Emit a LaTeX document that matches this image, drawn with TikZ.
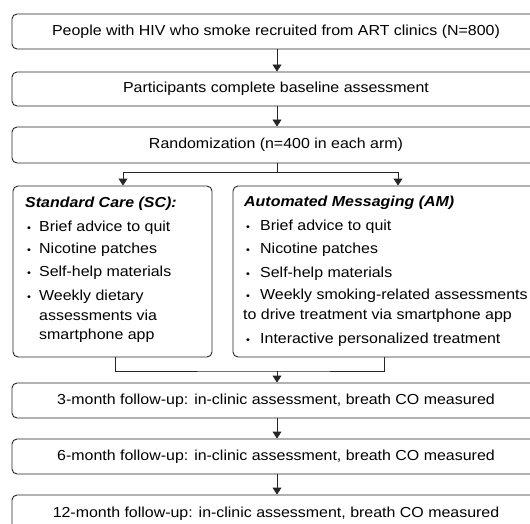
\documentclass[tikz,border=0pt]{standalone}
\usepackage{fontspec}
\setmainfont{Liberation Sans}[FakeStretch=1.1]
\usetikzlibrary{arrows.meta}
\newcommand\myfs{\fontsize{14.5}{17}\selectfont}
\begin{document}
\begin{tikzpicture}[x=1pt,y=-1pt,
  box/.style={draw=black!85, line width=0.9pt, rounded corners=5pt, inner sep=0pt, font=\myfs},
  arr/.style={-{Triangle[length=7pt,width=9pt]}, line width=0.9pt, draw=black!85},
  con/.style={line width=0.9pt, draw=black!85},
  ln/.style={anchor=base west, inner sep=0pt, font=\myfs},
  ttl/.style={anchor=base west, inner sep=0pt, font=\myfs\bfseries\itshape},
  bul/.style={anchor=base west, inner sep=0pt, font=\fontsize{10}{12}\selectfont}
]
\useasboundingbox (0,0) rectangle (530,524);
\clip (0,0) rectangle (530,524);

\node[box, minimum width=528pt, minimum height=35pt] (b1) at (276,31.5) {People with HIV who smoke recruited from ART clinics (N=800)};
\node[box, minimum width=528pt, minimum height=34pt] (b2) at (276,89) {Participants complete baseline assessment};
\node[box, minimum width=528pt, minimum height=36pt] (b3) at (276,145) {Randomization (n=400 in each arm)};
\node[box, minimum width=199pt, minimum height=171pt] (sc) at (112.5,271.5) {};
\node[box, minimum width=307pt, minimum height=171pt] (am) at (386.5,271.5) {};
\node[box, minimum width=528pt, minimum height=35pt] (b4) at (276,400.5) {3-month follow-up: in-clinic assessment, breath CO measured};
\node[box, minimum width=528pt, minimum height=35pt] (b5) at (276,456.5) {6-month follow-up: in-clinic assessment, breath CO measured};
\node[box, minimum width=528pt, minimum height=37pt] (b6) at (276,513.5) {12-month follow-up: in-clinic assessment, breath CO measured};

% Standard care
\node[ttl] (sct) at (25,207) {Standard Care (SC):};
\node[bul] (scb1) at (27,231) {•};
\node[ln]  (sc1) at (39,231) {Brief advice to quit};
\node[bul] (scb2) at (27,253) {•};
\node[ln]  (sc2) at (39,253) {Nicotine patches};
\node[bul] (scb3) at (27,276) {•};
\node[ln]  (sc3) at (39,276) {Self-help materials};
\node[bul] (scb4) at (27,300) {•};
\node[ln]  (sc4) at (39,300) {Weekly dietary};
\node[ln]  (sc5) at (39,320) {assessments via};
\node[ln]  (sc6) at (39,339) {smartphone app};

% Automated messaging
\node[ttl] (amt) at (244,206) {Automated Messaging (AM)};
\node[bul] (amb1) at (246,230) {•};
\node[ln]  (am1) at (260,230) {Brief advice to quit};
\node[bul] (amb2) at (246,253) {•};
\node[ln]  (am2) at (260,253) {Nicotine patches};
\node[bul] (amb3) at (246,277) {•};
\node[ln]  (am3) at (260,277) {Self-help materials};
\node[bul] (amb4) at (246,299) {•};
\node[ln]  (am4) at (260,299) {Weekly smoking-related assessments};
\node[ln]  (am5) at (243,319) {to drive treatment via smartphone app};
\node[bul] (amb6) at (246,343) {•};
\node[ln]  (am6) at (260,343) {Interactive personalized treatment};

% connectors
\coordinate (split) at (277,172);
\coordinate (join) at (277,371);
\draw[arr] (b1.south -| split) -- (b2.north -| split);
\draw[arr] (b2.south -| split) -- (b3.north -| split);
\draw[con] (b3.south -| split) -- (split);
\draw[arr] (split) -| ([xshift=10.5pt]sc.north);
\draw[arr] (split) -| ([xshift=11.5pt]am.north);
\draw[con] ([xshift=2.5pt]sc.south) |- (join) -| ([xshift=-2.5pt]am.south);
\draw[arr] (join) -- (b4.north -| join);
\draw[arr] (b4.south -| join) -- (b5.north -| join);
\draw[arr] (b5.south -| join) -- (b6.north -| join);
\end{tikzpicture}
\end{document}
